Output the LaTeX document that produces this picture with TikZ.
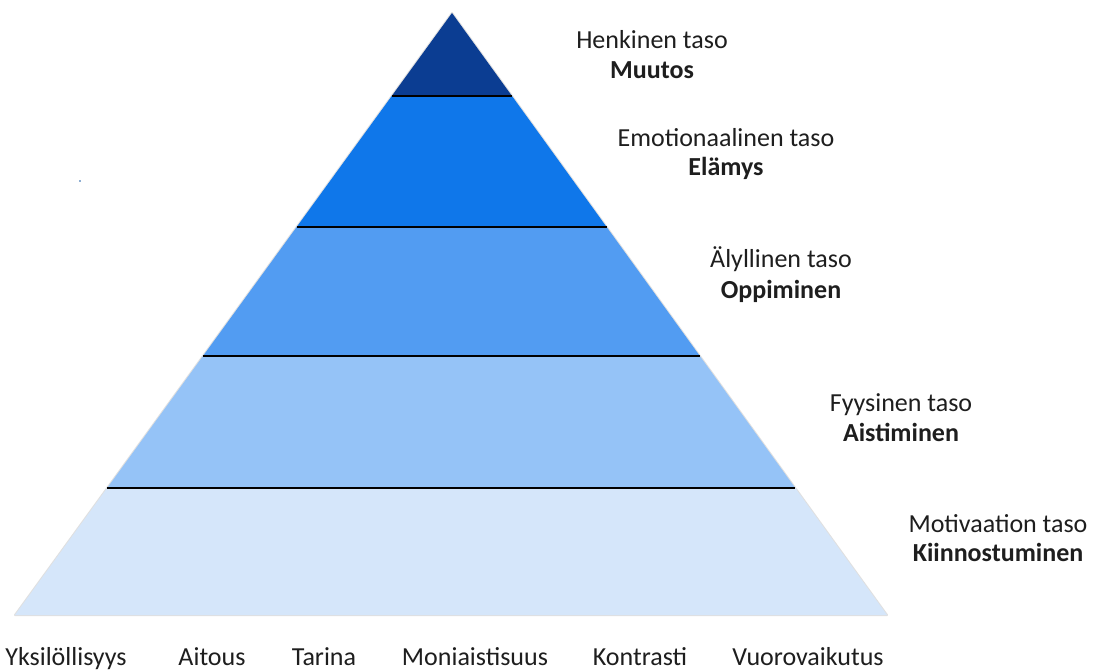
\documentclass[tikz,border=0pt]{standalone}
\usepackage{fontspec}
\setmainfont{Carlito}
\usetikzlibrary{calc}
\definecolor{lvA}{RGB}{11,61,146}
\definecolor{lvB}{RGB}{15,119,234}
\definecolor{lvC}{RGB}{82,156,242}
\definecolor{lvD}{RGB}{149,195,247}
\definecolor{lvE}{RGB}{213,230,250}
\definecolor{txt}{RGB}{30,30,30}
\tikzset{
  lbl/.style={anchor=base, inner sep=0pt, text=txt, font=\fontsize{26}{30}\selectfont},
  lblb/.style={lbl, font=\fontsize{26}{30}\selectfont\bfseries},
  sep/.style={draw=black, line width=1.3pt},
}
\begin{document}
\begin{tikzpicture}[x=1pt,y=-1pt]
\useasboundingbox (0,0) rectangle (1093,670);
\fill[white] (0,0) rectangle (1093,670);
% corners of the pyramid
\coordinate (A) at (452,13);
\coordinate (BL) at (15,615);
\coordinate (BR) at (887,615);
% points where the level boundaries meet the sides
\foreach \n/\t in {1/0.1379,2/0.3555,3/0.5698,4/0.7890}{
  \coordinate (L\n) at ($(A)!\t!(BL)$);
  \coordinate (R\n) at ($(A)!\t!(BR)$);
}
% soft outline
\draw[black!12, line width=2pt, line join=round] (A) -- (BL) -- (BR) -- cycle;
% level bands
\fill[lvA] (A) -- (L1) -- (R1) -- cycle;
\fill[lvB] (L1) -- (L2) -- (R2) -- (R1) -- cycle;
\fill[lvC] (L2) -- (L3) -- (R3) -- (R2) -- cycle;
\fill[lvD] (L3) -- (L4) -- (R4) -- (R3) -- cycle;
\fill[lvE] (L4) -- (BL) -- (BR) -- (R4) -- cycle;
% boundaries between levels
\foreach \n in {1,2,3,4}{ \draw[sep] (L\n) -- (R\n); }
% stray dot
\fill[lvD!70!gray] (79,180) rectangle (81,182);
% level labels
\node[lbl]  (h1) at (652,48) {Henkinen taso};
\node[lblb] (b1) at (652,78) {Muutos};
\node[lbl]  (h2) at (726,146) {Emotionaalinen taso};
\node[lblb] (b2) at (726,175) {Elämys};
\node[lbl]  (h3) at (781,267) {Älyllinen taso};
\node[lblb] (b3) at (781,298) {Oppiminen};
\node[lbl]  (h4) at (901,411) {Fyysinen taso};
\node[lblb] (b4) at (901,441) {Aistiminen};
\node[lbl]  (h5) at (998,532) {Motivaation taso};
\node[lblb] (b5) at (998,561) {Kiinnostuminen};
% qualities along the base
\node[lbl] (q1) at (66,665) {Yksilöllisyys};
\node[lbl] (q2) at (212,665) {Aitous};
\node[lbl] (q3) at (324,665) {Tarina};
\node[lbl] (q4) at (475,665) {Moniaistisuus};
\node[lbl] (q5) at (640,665) {Kontrasti};
\node[lbl] (q6) at (808,665) {Vuorovaikutus};
\end{tikzpicture}
\end{document}
